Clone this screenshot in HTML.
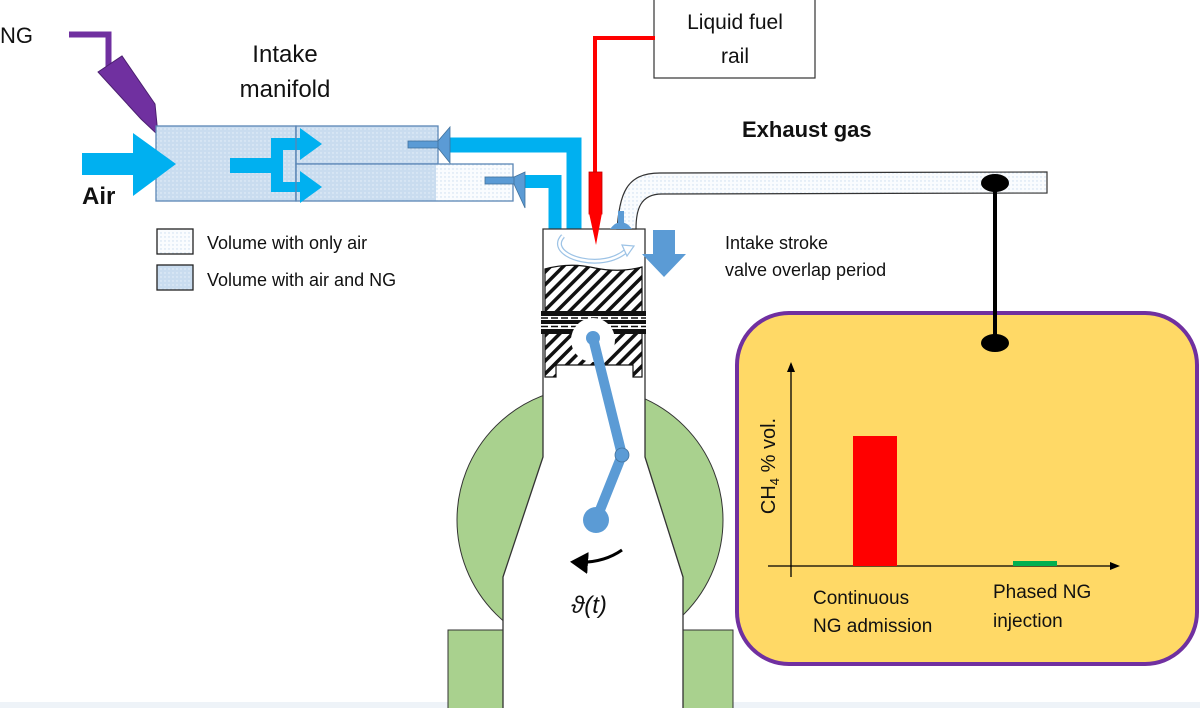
<!DOCTYPE html>
<html><head><meta charset="utf-8"><style>
html,body{margin:0;padding:0;background:#fff;}
svg{display:block;}
text{font-family:"Liberation Sans","DejaVu Sans",sans-serif;fill:#111;}
</style></head><body>
<svg width="1200" height="708" viewBox="0 0 1200 708" xmlns="http://www.w3.org/2000/svg">
<defs>
<pattern id="dots" width="4" height="4" patternUnits="userSpaceOnUse"><rect width="4" height="4" fill="#c9dcef"/><circle cx="1" cy="1" r="0.7" fill="#eaf2fa"/></pattern>
<pattern id="wdots" width="4" height="4" patternUnits="userSpaceOnUse"><rect width="4" height="4" fill="#fafcfe"/><circle cx="1" cy="1" r="0.7" fill="#c9dcef"/></pattern>
<pattern id="hatch" width="9" height="9" patternUnits="userSpaceOnUse" patternTransform="rotate(45)"><rect width="9" height="9" fill="#fff"/><rect width="3.5" height="9" fill="#111"/></pattern>
<marker id="ah" markerWidth="10" markerHeight="10" refX="8" refY="5" orient="auto" markerUnits="userSpaceOnUse"><path d="M0,1 L10,5 L0,9 Z" fill="#000"/></marker>
<marker id="ah2" markerWidth="22" markerHeight="22" refX="14" refY="11" orient="auto" markerUnits="userSpaceOnUse"><path d="M0,0 L18,11 L0,22 Z" fill="#000"/></marker>
</defs>
<rect x="0" y="702" width="1200" height="6" fill="#eef3f8"/>

<text x="0" y="43" font-size="22">NG</text>
<path d="M69,34.5 H108.5 V68" stroke="#7030a0" stroke-width="6" fill="none"/>
<polygon points="98,72 122,56 155,104 158,135 141,119" fill="#7030a0" stroke="#4b1f6f" stroke-width="1"/>

<text x="285" y="62" font-size="24" text-anchor="middle">Intake</text>
<text x="285" y="97" font-size="24" text-anchor="middle">manifold</text>

<rect x="156" y="126" width="140" height="75" fill="url(#dots)" stroke="#5a86b5" stroke-width="1.3"/>
<rect x="296" y="126" width="142" height="38" fill="url(#dots)" stroke="#5a86b5" stroke-width="1.3"/>
<rect x="296" y="164" width="140" height="37" fill="url(#dots)"/>
<rect x="436" y="164" width="77" height="37" fill="url(#wdots)"/>
<rect x="296" y="164" width="217" height="37" fill="none" stroke="#5a86b5" stroke-width="1.3"/>

<polygon points="82,153 133,153 133,133 176,164 133,196 133,175 82,175" fill="#00b0f0"/>
<text x="82" y="204" font-size="24" font-weight="bold">Air</text>
<rect x="230" y="158" width="45" height="15" fill="#00b0f0"/>
<rect x="271" y="138" width="12" height="54" fill="#00b0f0"/>
<polygon points="271,138 300,138 300,128 322,144 300,160 300,150 271,150" fill="#00b0f0"/>
<polygon points="271,182 300,182 300,171 322,187 300,203 300,192 271,192" fill="#00b0f0"/>
<line x1="296" y1="126" x2="296" y2="201" stroke="#5a86b5" stroke-width="1.3"/>

<path d="M449,145 H574 V229" stroke="#00b0f0" stroke-width="15" fill="none"/>
<path d="M522,181.5 H555 V229" stroke="#00b0f0" stroke-width="13" fill="none"/>
<rect x="408" y="141" width="32" height="7" fill="#5b9bd5" stroke="#41719c" stroke-width="0.8"/>
<polygon points="450,127 450,163 438,148 438,141" fill="#5b9bd5" stroke="#41719c" stroke-width="0.8"/>
<rect x="485" y="177" width="30" height="7" fill="#5b9bd5" stroke="#41719c" stroke-width="0.8"/>
<polygon points="525,172 525,208 514,184 514,177" fill="#5b9bd5" stroke="#41719c" stroke-width="0.8"/>

<rect x="157" y="229" width="36" height="25" fill="url(#wdots)" stroke="#222" stroke-width="1.3"/>
<rect x="157" y="265" width="36" height="25" fill="url(#dots)" stroke="#222" stroke-width="1.3"/>
<text x="207" y="249" font-size="18">Volume with only air</text>
<text x="207" y="286" font-size="18">Volume with air and NG</text>

<rect x="654" y="-2" width="161" height="80" fill="#fff" stroke="#333" stroke-width="1.2"/>
<text x="735" y="29" font-size="21" text-anchor="middle">Liquid fuel</text>
<text x="735" y="63" font-size="21" text-anchor="middle">rail</text>
<path d="M655,38 H595 V175" stroke="#ff0000" stroke-width="4" fill="none"/>

<circle cx="590" cy="520" r="133" fill="#a9d18e" stroke="#333" stroke-width="1"/>
<rect x="448" y="630" width="56" height="80" fill="#a9d18e" stroke="#333" stroke-width="1"/>
<rect x="683" y="630" width="50" height="80" fill="#a9d18e" stroke="#333" stroke-width="1"/>
<path d="M543,229 H645 V457 L683,577 V710 H503 V577 L543,457 Z" fill="#fff" stroke="#333" stroke-width="1.3"/>

<path d="M617,229 C620,195 625,173 660,173 L1047,172 L1047,193 L662,194 C640,194 636,210 636,229 Z" fill="url(#wdots)" stroke="#333" stroke-width="1.2"/>
<text x="742" y="137" font-size="22" font-weight="bold">Exhaust gas</text>
<rect x="618" y="211" width="6" height="16" fill="#5b9bd5"/>
<path d="M610,229 Q621,215 632,229 Z" fill="#5b9bd5"/>

<rect x="589" y="172" width="13" height="42" fill="#ff0000" stroke="#c00000" stroke-width="0.8"/>
<polygon points="589,213 602,213 596,245" fill="#ff0000"/>

<path d="M563,236 C550,250 575,263 600,261 C612,260 620,256 626,251" stroke="#9dc3e6" stroke-width="5" fill="none"/>
<path d="M563,236 C550,250 575,263 600,261 C612,260 620,256 626,251" stroke="#fff" stroke-width="2.5" fill="none"/>
<polygon points="622,245 634,246 627,256" fill="#fff" stroke="#9dc3e6" stroke-width="1.2"/>

<path d="M545,269 Q570,262 595,268 Q620,273 642,267 V377 H633 V365 H556 V377 H545 Z" fill="url(#hatch)" stroke="#111" stroke-width="1.2"/>
<rect x="541" y="311" width="105" height="23" fill="#fff"/>
<rect x="541" y="311" width="105" height="5" fill="#111"/>
<rect x="541" y="320" width="105" height="4" fill="#111"/>
<rect x="541" y="329" width="105" height="5" fill="#111"/>
<line x1="541" y1="318" x2="646" y2="318" stroke="#111" stroke-width="1.5" stroke-dasharray="7,3"/>
<line x1="541" y1="326.5" x2="646" y2="326.5" stroke="#111" stroke-width="1.5" stroke-dasharray="7,3"/>
<circle cx="593" cy="340" r="22" fill="#fff"/>
<path d="M593,338 L622,455 L596,520" stroke="#5b9bd5" stroke-width="10" stroke-linecap="round" stroke-linejoin="round" fill="none"/>
<circle cx="593" cy="338" r="7" fill="#5b9bd5"/>
<circle cx="622" cy="455" r="7" fill="#5b9bd5" stroke="#41719c" stroke-width="0.8"/>
<circle cx="596" cy="520" r="13" fill="#5b9bd5"/>
<path d="M622,550 Q602,564 574,562" stroke="#000" stroke-width="3" fill="none" marker-end="url(#ah2)"/>
<text x="589" y="613" font-size="24" font-style="italic" text-anchor="middle">ϑ(t)</text>

<polygon points="653,230 675,230 675,254 686,254 664,277 642,254 653,254" fill="#5b9bd5"/>
<text x="725" y="249" font-size="18">Intake stroke</text>
<text x="725" y="276" font-size="18">valve overlap period</text>

<rect x="737" y="313" width="460" height="351" rx="52" fill="#ffd966" stroke="#7030a0" stroke-width="4"/>
<line x1="995" y1="183" x2="995" y2="343" stroke="#000" stroke-width="4"/>
<ellipse cx="995" cy="183" rx="14" ry="9" fill="#000"/>
<ellipse cx="995" cy="343" rx="14" ry="9" fill="#000"/>
<line x1="791" y1="577" x2="791" y2="364" stroke="#000" stroke-width="1.3" marker-end="url(#ah)"/>
<line x1="768" y1="566" x2="1118" y2="566" stroke="#000" stroke-width="1.3" marker-end="url(#ah)"/>
<rect x="853" y="436" width="44" height="130" fill="#ff0000"/>
<rect x="1013" y="561" width="44" height="5" fill="#00b050"/>
<text transform="translate(775,466) rotate(-90)" font-size="20" text-anchor="middle">CH<tspan font-size="13" dy="4">4</tspan><tspan dy="-4"> % vol.</tspan></text>
<text x="813" y="604" font-size="19">Continuous</text>
<text x="813" y="632" font-size="19">NG admission</text>
<text x="993" y="598" font-size="19">Phased  NG</text>
<text x="993" y="627" font-size="19">injection</text>
</svg>
</body></html>
